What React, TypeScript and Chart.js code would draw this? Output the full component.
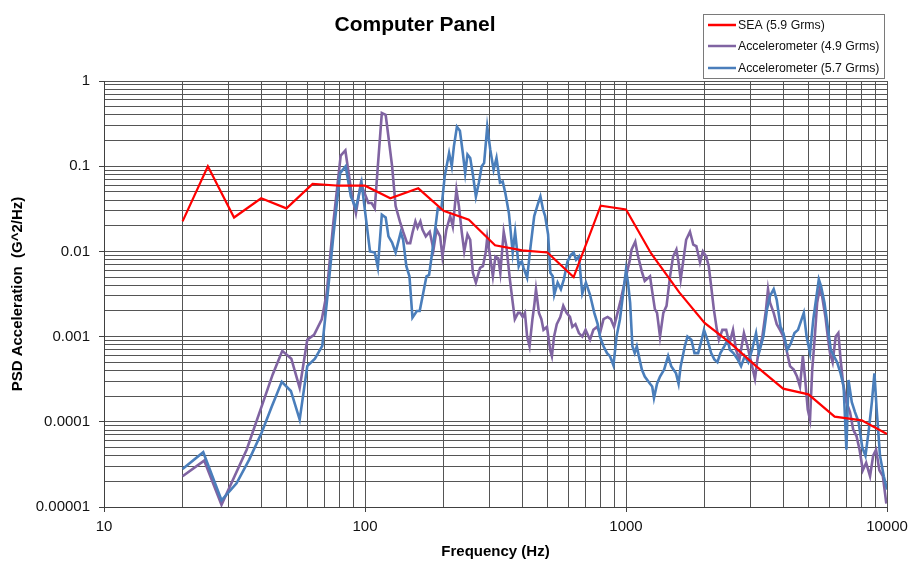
import React, { useEffect, useRef } from "react";
import { Chart, registerables } from "chart.js";

Chart.register(...registerables);

const TITLE = "Computer Panel";
const X_TITLE = "Frequency (Hz)";
const Y_TITLE = "PSD Acceleration  (G^2/Hz)";
const SERIES_NAMES = ["SEA (5.9 Grms)", "Accelerometer (4.9 Grms)", "Accelerometer (5.7 Grms)"];
const SERIES_COLORS = ["#FF0000", "#8064A2", "#4A7EBB"];

const X_MAJOR_TICKS = [10, 100, 1000, 10000];
const X_TICK_LABELS = ["10", "100", "1000", "10000"];
const Y_MAJOR_TICKS = [0.00001, 0.0001, 0.001, 0.01, 0.1, 1];
const Y_TICK_LABELS = ["0.00001", "0.0001", "0.001", "0.01", "0.1", "1"];
const MINOR_MULTIPLIERS = [1, 2, 3, 4, 5, 6, 7, 8, 9];

const SEA_FREQ = [20, 25, 31.5, 40, 50, 63, 80, 100, 125, 160, 200, 250, 315, 400, 500, 630, 800, 1000, 1250, 1600, 2000, 2500, 3150, 4000, 5000, 6300, 8000, 10000];
const SEA_PSD = [0.0225, 0.1, 0.025, 0.042, 0.032, 0.062, 0.059, 0.059, 0.042, 0.055, 0.03, 0.0235, 0.0118, 0.0103, 0.0097, 0.005, 0.0344, 0.031, 0.0094, 0.0033, 0.00145, 0.00085, 0.00045, 0.000245, 0.00021, 0.000115, 0.000104, 0.000072];

const ACC49_FREQ = [20, 24.2, 28.2, 35.2, 44.3, 48.2, 52.2, 56.2, 60.1, 63.8, 68.3, 71.3, 75.6, 80.7, 84.1, 89, 92.3, 96.4, 103, 106, 109, 112, 116, 120, 123, 127, 131, 136, 140, 145, 149, 152, 156, 159, 163, 166, 171, 177, 183, 188, 194, 198, 205, 212, 217, 224, 229, 235, 240, 247, 253, 259, 266, 276, 283, 290, 294, 300, 309, 316, 324, 330, 340, 348, 359, 367, 375, 386, 393, 402, 410, 418, 427, 438, 445, 452, 464, 474, 483, 498, 512, 520, 530, 543, 560, 575, 592, 610, 623, 640, 660, 680, 700, 728, 750, 775, 795, 820, 850, 875, 900, 928, 955, 980, 1008, 1035, 1050, 1085, 1110, 1150, 1180, 1236, 1260, 1290, 1315, 1350, 1390, 1430, 1475, 1515, 1560, 1590, 1620, 1660, 1700, 1758, 1810, 1860, 1921, 1970, 2030, 2075, 2120, 2170, 2230, 2270, 2340, 2420, 2490, 2570, 2640, 2720, 2830, 2920, 3000, 3120, 3200, 3330, 3440, 3500, 3563, 3680, 3780, 3890, 4010, 4120, 4250, 4390, 4520, 4640, 4760, 4860, 4970, 5070, 5170, 5290, 5400, 5520, 5640, 5810, 5930, 6050, 6190, 6360, 6510, 6640, 6790, 6990, 7215, 7420, 7640, 7850, 8080, 8320, 8610, 8850, 9080, 9350, 9640, 9940];
const ACC49_PSD = [2.3e-5, 3.5e-5, 1.06e-5, 4.7e-5, 3.6e-4, 6.8e-4, 5.5e-4, 2.5e-4, 9.2e-4, 1.05e-3, 1.6e-3, 3.2e-3, 0.0215, 0.133, 0.153, 0.046, 0.028, 0.063, 0.037, 0.037, 0.032, 0.1, 0.42, 0.4, 0.22, 0.1, 0.034, 0.0225, 0.017, 0.0125, 0.0125, 0.0165, 0.0225, 0.019, 0.0225, 0.018, 0.015, 0.017, 0.0105, 0.018, 0.015, 0.0087, 0.018, 0.026, 0.0195, 0.053, 0.034, 0.0165, 0.01, 0.0158, 0.0137, 0.0056, 0.0043, 0.0064, 0.0067, 0.0097, 0.0145, 0.0097, 0.0051, 0.0087, 0.0083, 0.0056, 0.017, 0.0115, 0.0047, 0.0027, 0.0016, 0.0019, 0.0019, 0.0017, 0.0019, 0.001, 0.00077, 0.0016, 0.0023, 0.0036, 0.0019, 0.0016, 0.0012, 0.0013, 0.0007, 0.00059, 0.001, 0.0014, 0.0017, 0.0023, 0.0019, 0.0017, 0.0013, 0.0014, 0.0011, 0.001, 0.0012, 0.00092, 0.0012, 0.0013, 0.0011, 0.0016, 0.0017, 0.0016, 0.0013, 0.0019, 0.0027, 0.0039, 0.0056, 0.008, 0.0105, 0.013, 0.009, 0.0058, 0.0045, 0.0051, 0.0034, 0.0021, 0.0019, 0.001, 0.0019, 0.0023, 0.0051, 0.0087, 0.0105, 0.0074, 0.0047, 0.008, 0.0137, 0.017, 0.012, 0.0115, 0.0074, 0.01, 0.0087, 0.0067, 0.0039, 0.0021, 0.0012, 0.00092, 0.0012, 0.0012, 0.00083, 0.0012, 0.0007, 0.00054, 0.0011, 0.00077, 0.00054, 0.00032, 0.00059, 0.001, 0.0021, 0.0036, 0.0025, 0.0019, 0.0014, 0.0012, 0.001, 0.0007, 0.00045, 0.00041, 0.00034, 0.00026, 0.00059, 0.00031, 0.000139, 0.000106, 0.00041, 0.001, 0.0025, 0.0036, 0.003, 0.0017, 0.001, 0.00064, 0.0005, 0.001, 0.0011, 0.00054, 0.00028, 0.00017, 0.00013, 0.000081, 0.000068, 0.000047, 0.000027, 0.000033, 0.000023, 0.00004, 0.000047, 0.000027, 0.000023, 0.000011];

const ACC57_FREQ = [20, 24, 28.2, 32.2, 36, 40.2, 43.9, 48, 52, 56.2, 60.1, 64.3, 68.6, 71.8, 75.6, 80.3, 84.3, 88.3, 92.3, 97, 104.5, 109, 112, 116, 120, 123, 127, 131, 137, 140, 144, 148, 152, 158, 162, 167, 172, 176, 180, 185, 190, 196, 202, 210, 215, 219, 225, 231, 237, 242, 247, 253, 259, 266, 273, 280, 286, 294, 302, 311, 319, 329, 337, 345, 356, 368, 376, 388, 393, 399, 405, 418, 431, 445, 461, 470, 481, 490, 503, 513, 524, 531, 547, 563, 578, 597, 615, 630, 644, 660, 680, 702, 728, 756, 779, 795, 820, 846, 868, 895, 920, 948, 975, 1000, 1018, 1037, 1058, 1080, 1100, 1120, 1150, 1180, 1236, 1260, 1280, 1315, 1350, 1400, 1450, 1490, 1555, 1590, 1620, 1680, 1720, 1780, 1830, 1890, 1950, 1990, 2050, 2120, 2180, 2240, 2300, 2380, 2450, 2500, 2580, 2680, 2760, 2850, 2940, 3040, 3150, 3230, 3360, 3470, 3563, 3680, 3780, 3910, 4010, 4150, 4280, 4420, 4560, 4640, 4800, 4920, 5070, 5220, 5370, 5480, 5590, 5760, 5930, 6090, 6260, 6440, 6640, 6820, 6990, 7120, 7330, 7540, 7780, 8040, 8270, 8520, 8750, 8950, 9130, 9400, 9720, 10000];
const ACC57_PSD = [2.8e-5, 4.4e-5, 1.2e-5, 1.9e-5, 3.6e-5, 7.5e-5, 1.5e-4, 2.95e-4, 2.3e-4, 1.06e-4, 4.5e-4, 5.5e-4, 7.8e-4, 2.96e-3, 0.015, 0.083, 0.1, 0.044, 0.032, 0.064, 0.01, 0.0097, 0.0065, 0.027, 0.025, 0.015, 0.0127, 0.0097, 0.0167, 0.0137, 0.0067, 0.0051, 0.00167, 0.002, 0.002, 0.0032, 0.0051, 0.0053, 0.0087, 0.0165, 0.032, 0.031, 0.076, 0.143, 0.1, 0.17, 0.29, 0.26, 0.143, 0.083, 0.137, 0.125, 0.08, 0.044, 0.064, 0.1, 0.109, 0.29, 0.156, 0.091, 0.125, 0.064, 0.066, 0.048, 0.028, 0.0097, 0.017, 0.0067, 0.0074, 0.0076, 0.0064, 0.0049, 0.0115, 0.026, 0.037, 0.044, 0.031, 0.026, 0.0158, 0.0056, 0.0051, 0.0031, 0.0043, 0.0036, 0.0047, 0.0076, 0.0091, 0.0097, 0.008, 0.0087, 0.0032, 0.0043, 0.0031, 0.0019, 0.0014, 0.001, 0.00077, 0.00064, 0.00059, 0.00046, 0.001, 0.0016, 0.0032, 0.0061, 0.0043, 0.0025, 0.00077, 0.00064, 0.00077, 0.00059, 0.00041, 0.00034, 0.00028, 0.00026, 0.00019, 0.00028, 0.00034, 0.00041, 0.00059, 0.00045, 0.00037, 0.00028, 0.00045, 0.00077, 0.001, 0.00092, 0.00064, 0.00064, 0.00092, 0.0012, 0.00092, 0.00064, 0.00054, 0.0005, 0.00064, 0.00077, 0.00092, 0.0007, 0.00064, 0.00054, 0.00045, 0.00059, 0.0005, 0.0007, 0.0011, 0.00064, 0.001, 0.0021, 0.003, 0.0036, 0.0027, 0.0013, 0.0011, 0.0007, 0.00083, 0.0011, 0.0012, 0.0014, 0.0019, 0.001, 0.00064, 0.0016, 0.003, 0.0047, 0.0039, 0.0025, 0.0013, 0.0007, 0.00059, 0.0005, 0.00037, 0.00026, 0.000047, 0.00031, 0.00017, 0.00013, 0.0001, 0.00005, 0.00004, 0.000081, 0.00017, 0.00037, 0.000139, 0.00004, 0.000023, 0.000016];

const FONT_FAMILY = '"Liberation Sans", Arial, sans-serif';

function toPoints(xs: number[], ys: number[]) {
  const n = Math.min(xs.length, ys.length);
  const out: { x: number; y: number }[] = [];
  for (let i = 0; i < n; i++) out.push({ x: xs[i], y: ys[i] });
  return out;
}

function logTicks(majors: number[]) {
  const out: { value: number }[] = [];
  for (let i = 0; i < majors.length - 1; i++) {
    for (const m of MINOR_MULTIPLIERS) out.push({ value: majors[i] * m });
  }
  out.push({ value: majors[majors.length - 1] });
  return out;
}

function majorIndex(majors: number[], v: number) {
  return majors.findIndex((m) => Math.abs(Math.log10(m) - Math.log10(v)) < 1e-6);
}

const overlayPlugin = {
  id: "overlay",
  afterDraw(chart: any) {
    const ctx = chart.ctx as CanvasRenderingContext2D;
    ctx.save();
    ctx.fillStyle = "#000";
    ctx.font = `bold 21px ${FONT_FAMILY}`;
    ctx.textAlign = "center";
    ctx.textBaseline = "alphabetic";
    ctx.fillText(TITLE, 415, 31);

    ctx.fillStyle = "#fff";
    ctx.fillRect(703.5, 14.5, 181, 64);
    ctx.strokeStyle = "#7a7a7a";
    ctx.lineWidth = 1;
    ctx.strokeRect(703.5, 14.5, 181, 64);

    const rows = [25, 46, 68];
    ctx.font = `12.3px ${FONT_FAMILY}`;
    ctx.textAlign = "left";
    ctx.textBaseline = "middle";
    SERIES_NAMES.forEach((name, i) => {
      ctx.strokeStyle = SERIES_COLORS[i];
      ctx.lineWidth = 2.5;
      ctx.beginPath();
      ctx.moveTo(708, rows[i]);
      ctx.lineTo(736, rows[i]);
      ctx.stroke();
      ctx.fillStyle = "#111";
      ctx.fillText(name, 738, rows[i] + 0.5);
    });
    ctx.restore();
  },
};

export default function App() {
  const ref = useRef<HTMLCanvasElement | null>(null);

  useEffect(() => {
    if (!ref.current) return;
    const gridColor = "#555555";
    const axisColor = "#404040";
    const chart = new Chart(ref.current, {
      type: "line",
      data: {
        datasets: [
          {
            label: SERIES_NAMES[0],
            data: toPoints(SEA_FREQ, SEA_PSD),
            borderColor: SERIES_COLORS[0],
            backgroundColor: SERIES_COLORS[0],
            borderWidth: 2.2,
            pointRadius: 0,
            tension: 0,
            order: 0,
          },
          {
            label: SERIES_NAMES[1],
            data: toPoints(ACC49_FREQ, ACC49_PSD),
            borderColor: SERIES_COLORS[1],
            backgroundColor: SERIES_COLORS[1],
            borderWidth: 2.6,
            pointRadius: 0,
            tension: 0,
            order: 2,
          },
          {
            label: SERIES_NAMES[2],
            data: toPoints(ACC57_FREQ, ACC57_PSD),
            borderColor: SERIES_COLORS[2],
            backgroundColor: SERIES_COLORS[2],
            borderWidth: 2.6,
            pointRadius: 0,
            tension: 0,
            order: 1,
          },
        ],
      },
      options: {
        animation: false,
        responsive: false,
        devicePixelRatio: 1,
        layout: { padding: { top: 81, right: 24, left: 0, bottom: 0 }, autoPadding: false },
        plugins: {
          legend: { display: false },
          title: { display: false },
          tooltip: { enabled: false },
        },
        scales: {
          x: {
            type: "logarithmic",
            min: 10,
            max: 10000,
            afterBuildTicks: (scale: any) => {
              scale.ticks = logTicks(X_MAJOR_TICKS);
            },
            afterFit: (scale: any) => {
              scale.height = 58;
              scale.paddingLeft = 0;
              scale.paddingRight = 0;
            },
            grid: {
              color: gridColor,
              lineWidth: 1,
              drawTicks: true,
              tickLength: 5,
              tickColor: (c: any) =>
                c.tick && majorIndex(X_MAJOR_TICKS, c.tick.value) >= 0 ? axisColor : "rgba(0,0,0,0)",
            },
            border: { display: true, color: axisColor, width: 1 },
            ticks: {
              autoSkip: false,
              maxRotation: 0,
              minRotation: 0,
              padding: 6,
              color: "#111",
              font: { family: FONT_FAMILY, size: 15 },
              callback: (value: any) => {
                const i = majorIndex(X_MAJOR_TICKS, Number(value));
                return i >= 0 ? X_TICK_LABELS[i] : "";
              },
            },
            title: {
              display: true,
              text: X_TITLE,
              color: "#000",
              font: { family: FONT_FAMILY, size: 15, weight: "bold" },
              padding: { top: 0, bottom: 4 },
            },
          },
          y: {
            type: "logarithmic",
            min: 0.00001,
            max: 1,
            afterBuildTicks: (scale: any) => {
              scale.ticks = logTicks(Y_MAJOR_TICKS);
            },
            afterFit: (scale: any) => {
              scale.width = 104;
              scale.paddingTop = 0;
              scale.paddingBottom = 0;
            },
            grid: {
              color: gridColor,
              lineWidth: 1,
              drawTicks: true,
              tickLength: 5,
              tickColor: (c: any) =>
                c.tick && majorIndex(Y_MAJOR_TICKS, c.tick.value) >= 0 ? axisColor : "rgba(0,0,0,0)",
            },
            border: { display: true, color: axisColor, width: 1 },
            ticks: {
              autoSkip: false,
              padding: 9,
              color: "#111",
              font: { family: FONT_FAMILY, size: 15 },
              callback: (value: any) => {
                const i = majorIndex(Y_MAJOR_TICKS, Number(value));
                return i >= 0 ? Y_TICK_LABELS[i] : "";
              },
            },
            title: {
              display: true,
              text: Y_TITLE,
              color: "#000",
              font: { family: FONT_FAMILY, size: 15, weight: "bold" },
              padding: { top: 9, bottom: 0 },
            },
          },
        },
      } as any,
      plugins: [overlayPlugin],
    });
    return () => chart.destroy();
  }, []);

  return (
    <div style={{ position: "absolute", left: 0, top: 0, width: 911, height: 565, background: "#fff" }}>
      <canvas ref={ref} width={911} height={565} style={{ display: "block" }} />
    </div>
  );
}
